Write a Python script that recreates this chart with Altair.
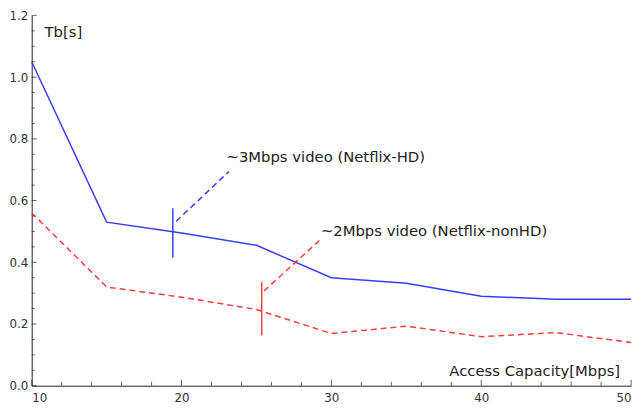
import altair as alt
import pandas as pd

capacity = [10, 15, 20, 25, 30, 35, 40, 45, 50]
tb_hd = [1.05, 0.53, 0.495, 0.455, 0.35, 0.332, 0.29, 0.28, 0.28]
tb_nonhd = [0.56, 0.32, 0.287, 0.247, 0.169, 0.193, 0.159, 0.172, 0.14]

y_major = [0.0, 0.2, 0.4, 0.6, 0.8, 1.0, 1.2]
y_minor = [round(i * 0.05, 2) for i in range(25) if i % 4 != 0]
x_major = [10, 20, 30, 40, 50]
x_minor = [x for x in range(12, 50, 2) if x % 10 != 0]

# annotation markers
hd_marker_x = [19.42, 19.42]
hd_marker_y = [0.415, 0.575]
hd_leader_x = [19.64, 23.16]
hd_leader_y = [0.533, 0.694]
nonhd_marker_x = [25.35, 25.35]
nonhd_marker_y = [0.163, 0.336]
nonhd_leader_x = [25.5, 29.3]
nonhd_leader_y = [0.307, 0.475]

W, H = 607, 375
FONT = "DejaVu Sans"
BLUE = "#3b3bff"
RED = "#ff3c3c"

xs = alt.Scale(domain=[10, 50], nice=False)
ys = alt.Scale(domain=[0, 1.2], nice=False)

df = pd.DataFrame({"cap": capacity, "hd": tb_hd, "nonhd": tb_nonhd})

base_x = alt.X("cap:Q", scale=xs,
               axis=alt.Axis(values=x_major, ticks=False, grid=False, title=None,
                             domainColor="#222", labelColor="#333", labelFont=FONT,
                             labelFontSize=12, labelPadding=7, format="d"))
base_y_axis = alt.Axis(values=y_major, ticks=False, grid=False, title=None,
                       domainColor="#222", labelColor="#333", labelFont=FONT,
                       labelFontSize=12, labelPadding=4, format=".1f")

hd_line = alt.Chart(df).mark_line(color=BLUE, strokeWidth=1.5).encode(
    x=base_x, y=alt.Y("hd:Q", scale=ys, axis=base_y_axis))
nonhd_line = alt.Chart(df).mark_line(color=RED, strokeWidth=1.5, strokeDash=[6, 4]).encode(
    x=alt.X("cap:Q", scale=xs), y=alt.Y("nonhd:Q", scale=ys))

def seg(xv, yv, color, dash=None):
    d = pd.DataFrame({"x": xv, "y": yv})
    kw = dict(color=color, strokeWidth=1.5)
    if dash:
        kw["strokeDash"] = dash
    return alt.Chart(d).mark_line(**kw).encode(
        x=alt.X("x:Q", scale=xs), y=alt.Y("y:Q", scale=ys))

hd_mark = seg(hd_marker_x, hd_marker_y, BLUE)
hd_lead = seg(hd_leader_x, hd_leader_y, BLUE, [6, 4])
nonhd_mark = seg(nonhd_marker_x, nonhd_marker_y, RED)
nonhd_lead = seg(nonhd_leader_x, nonhd_leader_y, RED, [6, 4])

labels = pd.DataFrame({
    "x": [10.86, 23.0, 29.3],
    "y": [1.145, 0.74, 0.502],
    "t": ["Tb[s]", "~3Mbps video (Netflix-HD)", "~2Mbps video (Netflix-nonHD)"],
})
text_left = alt.Chart(labels).mark_text(align="left", baseline="middle", font=FONT,
                                        fontSize=15, color="#222").encode(
    x=alt.X("x:Q", scale=xs), y=alt.Y("y:Q", scale=ys), text="t:N")

xtitle = pd.DataFrame({"x": [49.27], "y": [0.047], "t": ["Access Capacity[Mbps]"]})
text_right = alt.Chart(xtitle).mark_text(align="right", baseline="middle", font=FONT,
                                         fontSize=15, color="#222").encode(
    x=alt.X("x:Q", scale=xs), y=alt.Y("y:Q", scale=ys), text="t:N")

ymaj = alt.Chart(pd.DataFrame({"v": y_major})).mark_tick(
    orient="horizontal", size=5, thickness=1, color="#222").encode(
    y=alt.Y("v:Q", scale=ys), x=alt.value(2.5))
ymin = alt.Chart(pd.DataFrame({"v": y_minor})).mark_tick(
    orient="horizontal", size=3, thickness=1, color="#222").encode(
    y=alt.Y("v:Q", scale=ys), x=alt.value(1.5))
xmaj = alt.Chart(pd.DataFrame({"v": x_major})).mark_tick(
    orient="vertical", size=6, thickness=1, color="#222").encode(
    x=alt.X("v:Q", scale=xs), y=alt.value(H - 3))
xmin = alt.Chart(pd.DataFrame({"v": x_minor})).mark_tick(
    orient="vertical", size=4, thickness=1, color="#222").encode(
    x=alt.X("v:Q", scale=xs), y=alt.value(H - 2))

chart = alt.layer(
    hd_line, nonhd_line, hd_mark, hd_lead, nonhd_mark, nonhd_lead,
    text_left, text_right, ymaj, ymin, xmaj, xmin
).properties(
    width=W, height=H,
    autosize=alt.AutoSizeParams(type="none"),
    padding={"left": 24, "top": 5, "right": 5, "bottom": 16},
    background="white",
).configure_view(stroke=None)

chart.save("out.html", embed_options={"renderer": "svg", "actions": False})
